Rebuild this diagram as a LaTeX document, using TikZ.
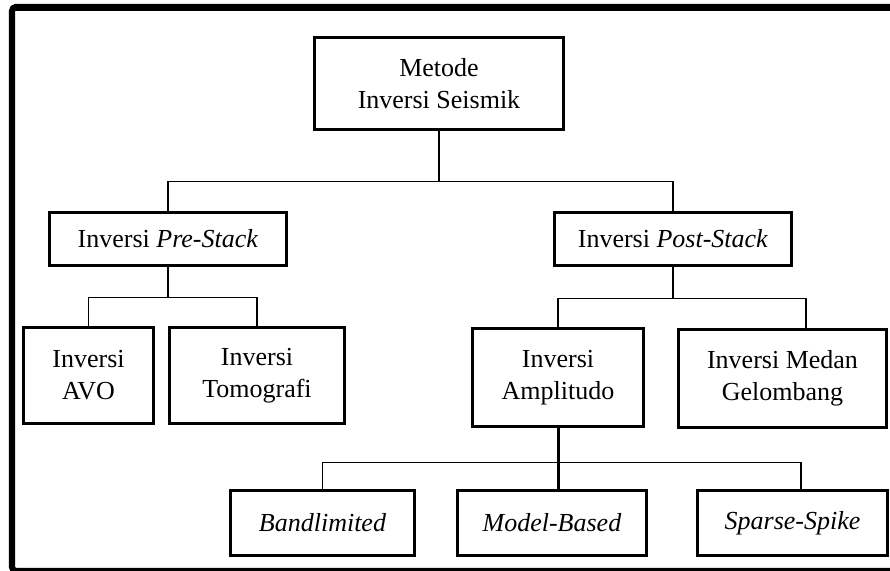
\documentclass[tikz,border=0pt]{standalone}
\usepackage{fontspec}
\setmainfont{Liberation Serif}
\begin{document}
\begin{tikzpicture}[x=0.75pt,y=-0.75pt,
  box/.style={draw, line width=2.25pt, inner sep=0pt, align=center,
              font=\fontsize{19.5}{24}\selectfont},
  link/.style={line width=1.2pt},
  heavylink/.style={line width=2.25pt},
  frameline/.style={line width=4.6pt, rounded corners=3pt}]
\useasboundingbox (0,0) rectangle (890,571);
\draw[frameline] (12,7) rectangle (930,571);
\draw[line width=5.25pt] (14,7) -- (900,7);

\node[box, minimum width=186.75pt, minimum height=69pt] (top) at (439,83.5) {Metode\\Inversi Seismik};
\node[box, minimum width=177.75pt, minimum height=39.75pt] (pre) at (168,239) {Inversi \textit{Pre-Stack}};
\node[box, minimum width=177.75pt, minimum height=39.75pt] (post) at (673,239) {Inversi \textit{Post-Stack}};
\node[box, minimum width=97.5pt, minimum height=72pt] (avo) at (88.5,375.5) {Inversi\\AVO};
\node[box, minimum width=131.25pt, minimum height=72pt] (tomo) at (257,375.5) {Inversi\\Tomografi};
\node[box, minimum width=128.25pt, minimum height=73.5pt] (ampl) at (558,377.5) {Inversi\\Amplitudo};
\node[box, minimum width=156pt, minimum height=73.5pt] (medan) at (782.5,378.5) {Inversi Medan\\Gelombang};
\node[box, minimum width=138pt, minimum height=48.75pt] (band) at (322.5,523) {\textit{Bandlimited}};
\node[box, minimum width=141.75pt, minimum height=48.75pt] (model) at (552,523) {\textit{Model-Based}};
\node[box, minimum width=142.5pt, minimum height=48.75pt] (sparse) at (792.5,523) {\textit{Sparse-Spike}};

\draw[link] (top.south) -- ++(0,50.5) coordinate (j1);
\draw[link] (pre.north) |- (j1) -| (post.north);

\draw[link] (pre.south) -- ++(0,30.5) coordinate (j2);
\draw[link] (avo.north) |- (j2) -| (tomo.north);

\draw[link] (post.south) -- ++(0,31.5) coordinate (j3);
\draw[link] (ampl.north) |- (j3) -| ([xshift=17.6pt]medan.north);

\draw[heavylink] (ampl.south) -- (ampl.south |- model.north);
\path (ampl.south) ++(0,34.5) coordinate (j4);
\draw[link] (band.north) |- (j4) -| ([xshift=6.4pt]sparse.north);
\end{tikzpicture}
\end{document}
